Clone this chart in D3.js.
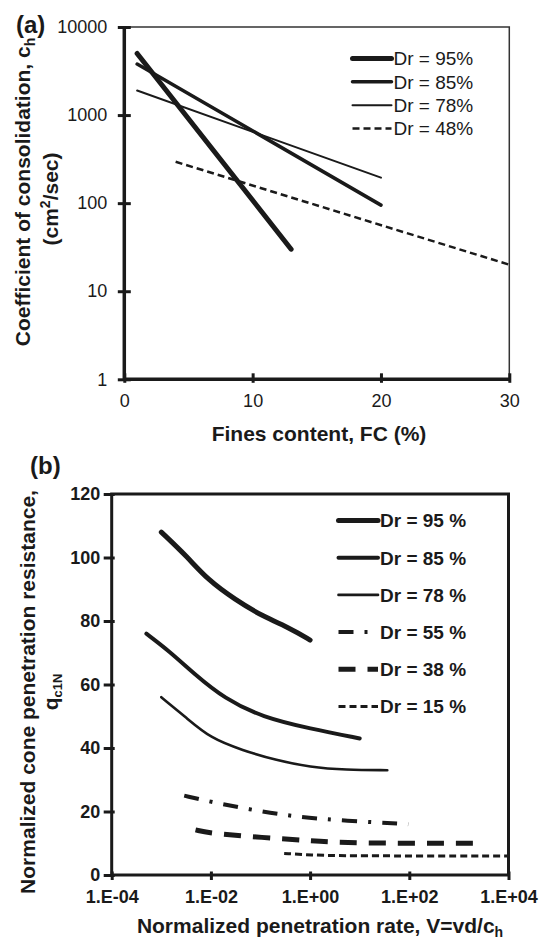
<!DOCTYPE html>
<html><head><meta charset="utf-8">
<script src="https://cdn.jsdelivr.net/npm/d3@7"></script>
<style>
body{margin:0;background:#fff}
svg{display:block}
text{font-family:"Liberation Sans",Arial,Helvetica,sans-serif;fill:#1a1a1a}
</style>
</head><body>
<svg id="c" width="542" height="939"></svg>
<script>
// ---------- Panel (a) data ----------
const legendA = ["Dr = 95%", "Dr = 85%", "Dr = 78%", "Dr = 48%"];
const fc95 = [1, 13],  ch95 = [5000, 30];
const fc85 = [1, 20],  ch85 = [3800, 95];
const fc78 = [1, 20],  ch78 = [1900, 195];
const fc48 = [4, 30],  ch48 = [295, 20];
const yTicksA = [1, 10, 100, 1000, 10000];
const xTicksA = [0, 10, 20, 30];

// ---------- Panel (b) data ----------
const legendB = ["Dr = 95 %", "Dr = 85 %", "Dr = 78 %", "Dr = 55 %", "Dr = 38 %", "Dr = 15 %"];
const v95 = [0.001, 0.0033, 0.0086, 0.031, 0.11, 0.41, 1];
const q95 = [108, 100.3, 93, 86.7, 81.5, 77.6, 74];
const v85 = [0.0005, 0.00145, 0.0045, 0.019, 0.11, 1, 10];
const q85 = [76, 70.5, 63.5, 55.5, 49.7, 46.1, 43];
const v78 = [0.001, 0.0032, 0.01, 0.043, 0.21, 1, 5.2, 36];
const q78 = [56, 49.5, 43, 39.3, 36.1, 34, 33.1, 33];
const v55 = [0.0029, 0.01, 0.074, 0.51, 5.2, 95];
const q55 = [25, 23, 20.4, 18.3, 17.1, 16];
const v38 = [0.0049, 0.01, 0.11, 1, 5.2, 2200];
const q38 = [14.2, 13.1, 11.8, 10.8, 10, 10];
const v15 = [0.3, 1, 5.2, 10000];
const q15 = [6.8, 6.3, 6, 6];
const yTicksB = [0, 20, 40, 60, 80, 100, 120];
const xTicksB = [1e-4, 1e-2, 1, 1e2, 1e4];

const INK = "#1a1a1a";
const FONT = '"Liberation Sans",Arial,sans-serif';
const svg = d3.select("#c");

// ================= Panel (a) =================
const A = {l: 124.3, r: 509.3, t: 27, b: 379.3};
const xA = d3.scaleLinear().domain([0, 30]).range([A.l, A.r]);
const yA = d3.scaleLog().domain([1, 10000]).range([A.b, A.t]);
const gA = svg.append("g");

// thin top/right frame
gA.append("path").attr("d", `M${A.l},${A.t}H${A.r}V${A.b}`)
  .attr("fill", "none").attr("stroke", "#333").attr("stroke-width", 1.5);

const axLA = gA.append("g").attr("transform", `translate(${A.l},0)`)
  .call(d3.axisLeft(yA).tickValues(yTicksA).tickFormat(d3.format("d")).tickSizeOuter(0));
axLA.select(".domain").remove();
axLA.selectAll(".tick line").attr("x1", 6.5).attr("x2", -6.5).attr("stroke", INK).attr("stroke-width", 3);
axLA.selectAll(".tick text").attr("x", -17).attr("font-size", 18).attr("fill", INK).style("font-family", FONT);

const axBA = gA.append("g").attr("transform", `translate(0,${A.b})`)
  .call(d3.axisBottom(xA).tickValues(xTicksA).tickFormat(d3.format("d")).tickSizeOuter(0));
axBA.select(".domain").remove();
axBA.selectAll(".tick line").attr("y1", 3.5).attr("y2", -6).attr("stroke", INK).attr("stroke-width", 3);
axBA.selectAll(".tick text").attr("y", 15).attr("font-size", 18).attr("fill", INK).style("font-family", FONT);

// thick left / bottom axis lines
gA.append("path").attr("d", `M${A.l},${A.t}V${A.b}H${A.r}`)
  .attr("fill", "none").attr("stroke", INK).attr("stroke-width", 3.5);

const seriesA = [
  {x: fc95, y: ch95, w: 5,   dash: null},
  {x: fc85, y: ch85, w: 3.5, dash: null},
  {x: fc78, y: ch78, w: 2,   dash: null},
  {x: fc48, y: ch48, w: 2.5, dash: "7,4"}
];
const lineA = d3.line().x(d => xA(d[0])).y(d => yA(d[1]));
seriesA.forEach(s => {
  gA.append("path").attr("d", lineA(d3.zip(s.x, s.y)))
    .attr("fill", "none").attr("stroke", INK).attr("stroke-width", s.w)
    .attr("stroke-linecap", s.dash ? "butt" : "round")
    .attr("stroke-dasharray", s.dash);
});

// legend (a)
const legAy = d3.scalePoint().domain(legendA).range([58.5, 128.5]);
legendA.forEach((lab, i) => {
  const s = seriesA[i], y = legAy(lab);
  gA.append("line").attr("x1", 352.5).attr("x2", 391.5).attr("y1", y).attr("y2", y)
    .attr("stroke", INK).attr("stroke-width", s.w).attr("stroke-dasharray", s.dash)
    .attr("stroke-linecap", s.dash ? "butt" : "round");
  gA.append("text").attr("x", 393.5).attr("y", y).attr("dy", "0.36em")
    .attr("font-size", 19).text(lab);
});

// titles (a)
svg.append("text").attr("x", 16).attr("y", 33).attr("font-size", 24)
  .attr("font-weight", "bold").text("(a)");
svg.append("text").attr("x", 319).attr("y", 441).attr("text-anchor", "middle")
  .attr("font-size", 21).attr("font-weight", "bold").text("Fines content, FC (%)");
const tA1 = svg.append("text").attr("transform", "translate(22,192) rotate(-90)")
  .attr("text-anchor", "middle").attr("dy", "0.36em").attr("font-size", 21).attr("font-weight", "bold");
tA1.append("tspan").text("Coefficient of consolidation, c");
tA1.append("tspan").attr("font-size", 14).attr("dy", 5).text("h");
const tA2 = svg.append("text").attr("transform", "translate(50,199) rotate(-90)")
  .attr("text-anchor", "middle").attr("dy", "0.36em").attr("font-size", 21).attr("font-weight", "bold");
tA2.append("tspan").text("(cm");
tA2.append("tspan").attr("font-size", 14).attr("dy", -8).text("2");
tA2.append("tspan").attr("dy", 8).text("/sec)");

// ================= Panel (b) =================
const B = {l: 111.7, r: 508.5, t: 494, b: 875};
const xB = d3.scaleLog().domain([1e-4, 1e4]).range([B.l, B.r]);
const yB = d3.scaleLinear().domain([0, 120]).range([B.b, B.t]);
const gB = svg.append("g");

const fmtE = d => {
  const e = Math.round(Math.log10(d));
  return "1.E" + (e < 0 ? "-" : "+") + String(Math.abs(e)).padStart(2, "0");
};

const axLB = gB.append("g").attr("transform", `translate(${B.l},0)`)
  .call(d3.axisLeft(yB).tickValues(yTicksB).tickFormat(d3.format("d")).tickSizeOuter(0));
axLB.select(".domain").remove();
axLB.selectAll(".tick line").attr("x1", 3).attr("x2", -8).attr("stroke", INK).attr("stroke-width", 3);
axLB.selectAll(".tick text").attr("x", -11.5).attr("font-size", 18).attr("font-weight", "bold")
  .attr("fill", INK).style("font-family", FONT);

const axBB = gB.append("g").attr("transform", `translate(0,${B.b})`)
  .call(d3.axisBottom(xB).tickValues(xTicksB).tickFormat(fmtE).tickSizeOuter(0));
axBB.select(".domain").remove();
axBB.selectAll(".tick line").attr("y1", 5).attr("y2", -3.5).attr("stroke", INK).attr("stroke-width", 3);
axBB.selectAll(".tick text").attr("y", 15).attr("font-size", 18).attr("font-weight", "bold")
  .attr("fill", INK).style("font-family", FONT);

gB.append("rect").attr("x", B.l).attr("y", B.t).attr("width", B.r - B.l).attr("height", B.b - B.t)
  .attr("fill", "none").attr("stroke", INK).attr("stroke-width", 3);

const seriesB = [
  {v: v95, q: q95, w: 5,   dash: null},
  {v: v85, q: q85, w: 4,   dash: null},
  {v: v78, q: q78, w: 2.6, dash: null},
  {v: v55, q: q55, w: 4,   dash: "15,11,3,11"},
  {v: v38, q: q38, w: 5,   dash: "17,12"},
  {v: v15, q: q15, w: 3,   dash: "7,4"}
];
const lineB = d3.line().x(d => xB(d[0])).y(d => yB(d[1])).curve(d3.curveBasis);
seriesB.forEach(s => {
  gB.append("path").attr("d", lineB(d3.zip(s.v, s.q)))
    .attr("fill", "none").attr("stroke", INK).attr("stroke-width", s.w)
    .attr("stroke-linecap", s.dash ? "butt" : "round").attr("stroke-linejoin", "round")
    .attr("stroke-dasharray", s.dash);
});

// legend (b)
const legBy = d3.scalePoint().domain(legendB).range([520.5, 706.5]);
legendB.forEach((lab, i) => {
  const s = seriesB[i], y = legBy(lab);
  gB.append("line").attr("x1", 338.5).attr("x2", 378).attr("y1", y).attr("y2", y)
    .attr("stroke", INK).attr("stroke-width", s.w).attr("stroke-dasharray", s.dash)
    .attr("stroke-linecap", s.dash ? "butt" : "round");
  gB.append("text").attr("x", 380).attr("y", y).attr("dy", "0.36em")
    .attr("font-size", 19).attr("font-weight", "bold").text(lab);
});

// titles (b)
svg.append("text").attr("x", 30).attr("y", 474).attr("font-size", 24)
  .attr("font-weight", "bold").text("(b)");
const tBx = svg.append("text").attr("x", 320).attr("y", 933).attr("text-anchor", "middle")
  .attr("font-size", 21).attr("font-weight", "bold");
tBx.append("tspan").text("Normalized penetration rate, V=vd/c");
tBx.append("tspan").attr("font-size", 14).attr("dy", 4).text("h");
svg.append("text").attr("transform", "translate(27,692) rotate(-90)")
  .attr("text-anchor", "middle").attr("dy", "0.36em").attr("font-size", 21).attr("font-weight", "bold")
  .text("Normalized cone penetration resistance,");
const tB2 = svg.append("text").attr("transform", "translate(50,692) rotate(-90)")
  .attr("text-anchor", "middle").attr("dy", "0.36em").attr("font-size", 21).attr("font-weight", "bold");
tB2.append("tspan").text("q");
tB2.append("tspan").attr("font-size", 13).attr("dy", 4).text("c1N");
</script>
</body></html>
